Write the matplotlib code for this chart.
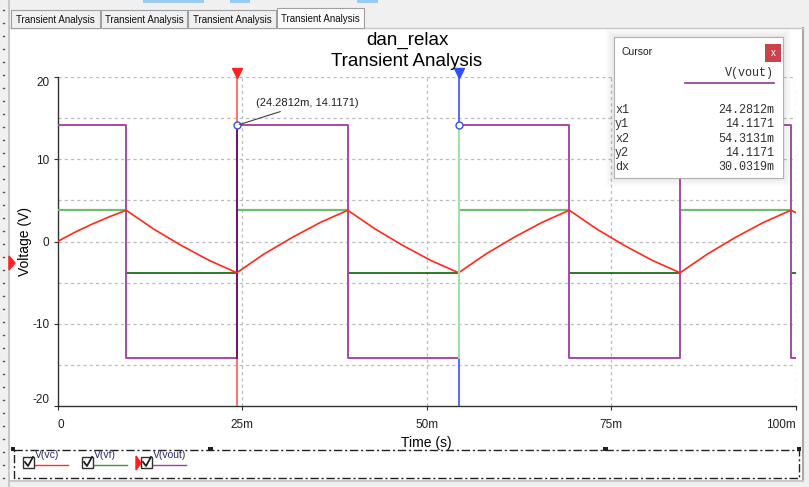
import matplotlib

matplotlib.use("Agg")
import matplotlib.pyplot as plt
import numpy as np
from matplotlib.lines import Line2D
from matplotlib.patches import Rectangle

W, H = 809, 487

# time in ms, values in volts
t_vout = [0, 9.3, 9.3, 24.2812, 24.2812, 39.3, 39.3, 54.31, 54.31, 69.3, 69.3, 84.3, 84.3, 99.3, 99.3, 100]
v_vout = [14.12, 14.12, -14.12, -14.12, 14.12, 14.12, -14.12, -14.12, 14.12, 14.12,
          -14.12, -14.12, 14.12, 14.12, -14.12, -14.12]

t_vf = t_vout
v_vf = [3.8, 3.8, -3.8, -3.8, 3.8, 3.8, -3.8, -3.8, 3.8, 3.8, -3.8, -3.8, 3.8, 3.8, -3.8, -3.8]

t_vc = [0, 2.3, 4.65, 7.0, 9.3, 13.05, 16.8, 20.55, 24.28, 28.0, 31.8, 35.55, 39.3,
        43.05, 46.8, 50.55, 54.31, 58.05, 61.8, 65.55, 69.3, 73.05, 76.8, 80.55, 84.3,
        88.05, 91.8, 95.55, 99.3, 100]
v_vc = [0, 1.1, 2.1, 3.0, 3.8, 1.5, -0.5, -2.3, -3.8, -1.5, 0.5, 2.3, 3.8,
        1.5, -0.5, -2.3, -3.8, -1.5, 0.5, 2.3, 3.8, 1.5, -0.5, -2.3, -3.8,
        -1.5, 0.5, 2.3, 3.8, 3.5]

cursor_t = [24.2812, 54.3131]
cursor_v = [14.1171, 14.1171]
cursor_rows = [("x1", "24.2812m"), ("y1", "14.1171"), ("x2", "54.3131m"),
               ("y2", "14.1171"), ("dx", "30.0319m")]

x_ticks = [0, 25, 50, 75, 100]
x_tick_labels = ["0", "25m", "50m", "75m", "100m"]
y_ticks = [-20, -10, 0, 10, 20]
y_tick_labels = ["-20", "-10", "0", "10", "20"]

legend_names = ["V(vc)", "V(vf)", "V(vout)"]
legend_colors = ["#ff3020", "#3a9a3a", "#9a40a8"]
tab_names = ["Transient Analysis"] * 4

plt.rcParams["font.family"] = ["Liberation Sans", "DejaVu Sans"]


def fx(x):
    return x / W


def fy(y):
    return 1 - y / H


def rect(x0, y0, x1, y1, **kw):
    fig.add_artist(Rectangle((fx(x0), fy(y1)), fx(x1) - fx(x0), fy(y0) - fy(y1),
                             transform=fig.transFigure, **kw))


def line(xs, ys, **kw):
    fig.add_artist(Line2D([fx(x) for x in xs], [fy(y) for y in ys],
                          transform=fig.transFigure, **kw))


fig = plt.figure(figsize=(W / 100, H / 100), dpi=100, facecolor="#f0f0f0")

# window chrome (behind the axes)
rect(10, 28, 803, 481, facecolor="white", edgecolor="none", zorder=-2)
line([803, 803], [28, 481], color="#a8a8a8", lw=1.5, zorder=-1)
line([10, 803], [481, 481], color="#c8c8c8", lw=1.5, zorder=-1)
line([9, 9], [0, 487], color="#c8c8c8", lw=1.5, zorder=-1)
for bx0, bx1 in [(143, 204), (230, 250), (357, 378)]:
    rect(bx0, 0, bx1, 3, facecolor="#9ccbef", edgecolor="none", zorder=-1)
for yy in range(10, 480, 13):
    line([3, 4], [yy, yy], color="#555555", lw=1, zorder=-1)
line([10, 803], [28, 28], color="#c8c8c8", lw=1, zorder=-1)

tab_x = [(11, 100), (101, 187), (188, 276), (277, 364)]
for i, ((a, b), name) in enumerate(zip(tab_x, tab_names)):
    active = i == 3
    top = 8 if active else 10
    rect(a, top, b, 28, facecolor="#fbfbfb" if active else "#f0f0f0",
         edgecolor="#a0a0a0", lw=0.8)
    fig.text(fx((a + b) / 2), fy((top + 28) / 2 + 1), name, ha="center", va="center",
             fontsize=7, color="#111111")

# red marker at left edge
fig.add_artist(plt.Polygon([[fx(9), fy(256)], [fx(15), fy(263)], [fx(9), fy(270)]],
                           closed=True, transform=fig.transFigure, color="#ff2020"))

fig.text(fx(407), fy(40), "dan_relax", ha="center", va="center", fontsize=13.5)
fig.text(fx(407), fy(62), "Transient Analysis", ha="center", va="center", fontsize=13.5)

ax = fig.add_axes([fx(57.5), fy(406), fx(796) - fx(57.5), fy(77) - fy(406)])
ax.set_facecolor("none")
ax.set_xlim(0, 100)
ax.set_ylim(-20, 20)
for g in [25, 50, 75, 100]:
    ax.axvline(g, color="#bcbcbc", lw=0.9, ls=(0, (2.5, 2.5)), zorder=1)
for g in [-15, -10, -5, 0, 5, 10, 15, 20]:
    ax.axhline(g, color="#bcbcbc", lw=0.9, ls=(0, (2.5, 2.5)), zorder=1)

ax.spines[["top", "right"]].set_visible(False)
for s in ["left", "bottom"]:
    ax.spines[s].set_color("#303030")
    ax.spines[s].set_linewidth(1.0)
ax.set_xticks(x_ticks, x_tick_labels)
ax.set_yticks(y_ticks, y_tick_labels)
ax.tick_params(axis="both", length=3, width=0.8, color="#303030", labelsize=8.5,
               labelcolor="#202020", pad=3)
ax.tick_params(axis="x", pad=6)
ax.get_xticklabels()[0].set_ha("left")
ax.get_xticklabels()[-1].set_ha("right")
ax.get_yticklabels()[0].set_va("bottom")
ax.get_yticklabels()[-1].set_va("top")
ax.set_xlabel("Time (s)", fontsize=10, labelpad=4)
ax.set_ylabel("Voltage (V)", fontsize=10)
ax.yaxis.set_label_coords(-0.035, 0.5)

# cursor 1 (red) under the trace
ax.axvline(cursor_t[0], color="#ff7070", lw=1.4, zorder=2)

vf = np.array(v_vf)
ax.plot(t_vf, np.where(vf > 0, vf, np.nan), color="#72bb72", lw=1.6, zorder=3)
ax.plot(t_vf, np.where(vf < 0, vf, np.nan), color="#1c6e1c", lw=1.3, zorder=3)
ax.plot(t_vout, v_vout, color="#a64aa6", lw=1.4, zorder=4)
ax.plot([cursor_t[0], cursor_t[0]], [-14.12, 14.12], color="#6a1a6a", lw=1.4, zorder=4)
ax.plot(t_vc, v_vc, color="#ff2a1a", lw=1.2, zorder=5)

# cursor 2 (blue) over the trace
ax.axvline(cursor_t[1], color="#4a5cff", lw=1.3, zorder=6)
ax.plot([cursor_t[1], cursor_t[1]], [-14.12, 14.12], color="#a8f0a0", lw=1.3, zorder=7)

ax.plot(cursor_t, cursor_v, ls="none", marker="o", ms=5, mfc="white", mec="#3a50e0",
        mew=1, zorder=8)
ax.plot([cursor_t[0]], [20.45], marker="v", ms=7, color="#ff2020", clip_on=False, zorder=9)
ax.plot([cursor_t[1]], [20.45], marker="v", ms=7, color="#3050ff", clip_on=False, zorder=9)
ax.annotate("(24.2812m, 14.1171)", xy=(cursor_t[0], cursor_v[0]), xytext=(14, 14),
            textcoords="offset points", fontsize=8, color="#202020",
            arrowprops=dict(arrowstyle="-", color="#404040", lw=0.8), zorder=9)

# cursor panel
for k, a in enumerate([0.03, 0.03, 0.03, 0.04]):
    d = 8 - 2 * k
    rect(614 - d, 37 - d, 783 + d, 178 + d, facecolor="#606060", edgecolor="none", alpha=a)
rect(614, 37, 783, 178, facecolor="white", edgecolor="#b0b0b0", lw=0.8)
fig.text(fx(622), fy(52), "Cursor", ha="left", va="center", fontsize=7.5, color="#202020")
rect(765, 44, 781, 62, facecolor="#c9444a", edgecolor="none")
fig.text(fx(773), fy(53), "x", ha="center", va="center", fontsize=7, color="white")
fig.text(fx(774), fy(73), "V(vout)", ha="right", va="center", fontsize=8.5,
         family="Liberation Mono", color="#303030")
line([685, 774], [83, 83], color="#8a3a9a", lw=1.2)
for i, (lab, val) in enumerate(cursor_rows):
    yy = 110 + i * 14.3
    fig.text(fx(615), fy(yy), lab, ha="left", va="center", fontsize=8.5,
             family="Liberation Mono", color="#303030")
    fig.text(fx(774), fy(yy), val, ha="right", va="center", fontsize=8.5,
             family="Liberation Mono", color="#303030")

# legend strip
line([14, 799, 799, 14, 14], [450, 450, 478, 478, 450], color="#202020", lw=1,
     ls=(0, (6, 2, 1.5, 2)))
for x0, name, color in zip([22, 81, 140], legend_names, legend_colors):
    rect(x0 + 1, 457, x0 + 12, 468, facecolor="white", edgecolor="#303030", lw=1)
    line([x0 + 3, x0 + 6, x0 + 11], [462, 466, 457], color="#202020", lw=1.3)
    fig.text(fx(x0 + 13), fy(455), name, ha="left", va="center", fontsize=7.5,
             color="#2a2a6a")
    line([x0 + 13, x0 + 46], [465, 465], color=color, lw=1)
fig.add_artist(plt.Polygon([[fx(136), fy(456)], [fx(141), fy(463)], [fx(136), fy(470)]],
                           closed=True, transform=fig.transFigure, color="#ff2020"))
rect(11, 447, 15, 451, facecolor="#202020", edgecolor="none")
rect(208, 447, 213, 451, facecolor="#202020", edgecolor="none")
rect(603, 447, 608, 451, facecolor="#202020", edgecolor="none")
rect(797, 447, 801, 451, facecolor="#202020", edgecolor="none")

fig.savefig("out.png", dpi=100, facecolor=fig.get_facecolor())
plt.close(fig)
